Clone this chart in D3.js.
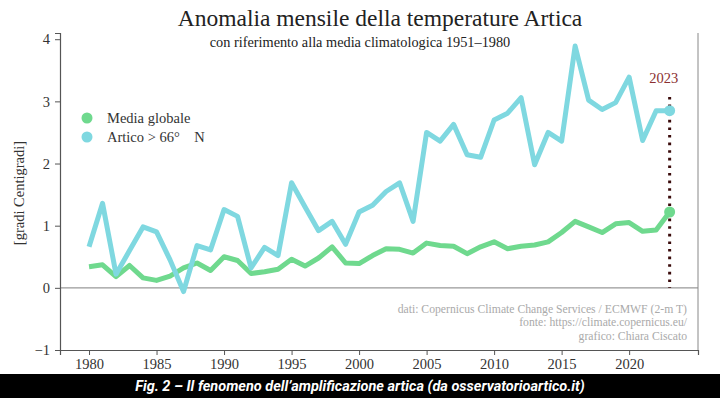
<!DOCTYPE html>
<html>
<head>
<meta charset="utf-8">
<script src="https://cdn.jsdelivr.net/npm/d3@7"></script>
<style>
  body { margin: 0; background: #fff; }
  svg { display: block; }
</style>
</head>
<body>
<div id="vis"></div>
<script>
// data
const YEARS = d3.range(1980, 2024)
const GLOBAL = [0.34, 0.37, 0.18, 0.36, 0.16, 0.12, 0.19, 0.32, 0.40, 0.28,
                0.50, 0.44, 0.23, 0.26, 0.30, 0.46, 0.35, 0.48, 0.66, 0.40,
                0.39, 0.52, 0.63, 0.62, 0.56, 0.72, 0.68, 0.67, 0.55, 0.66,
                0.74, 0.63, 0.67, 0.69, 0.74, 0.89, 1.07, 0.98, 0.89, 1.03,
                1.05, 0.91, 0.93, 1.22]
const ARCTIC = [0.66, 1.36, 0.22, 0.60, 0.98, 0.90, 0.45, -0.06, 0.68, 0.61,
                1.26, 1.15, 0.32, 0.65, 0.52, 1.69, 1.30, 0.92, 1.07, 0.70,
                1.22, 1.33, 1.55, 1.69, 1.07, 2.50, 2.36, 2.63, 2.14, 2.10,
                2.70, 2.81, 3.06, 1.98, 2.50, 2.36, 3.89, 3.02, 2.87, 2.98,
                3.39, 2.37, 2.85, 2.85]
const Y_TICKS = [-1, 0, 1, 2, 3, 4]
const X_TICKS = [1980, 1985, 1990, 1995, 2000, 2005, 2010, 2015, 2020]
const SERIES = [
  {name: "Media globale", values: GLOBAL, color: "#6fd98e"},
  {name: "Artico > 66°\u2003N", values: ARCTIC, color: "#7fd8e0"}
]
const HIGHLIGHT_YEAR = 2023
const CREDITS = ["dati: Copernicus Climate Change Services / ECMWF (2-m T)",
                 "fonte: https://climate.copernicus.eu/",
                 "grafico: Chiara Ciscato"]

const FRAME_WIDTH = 720
const FRAME_HEIGHT = 398
const MARGINS = {left: 60, right: 22, top: 33, bottom: 48}
const SERIF = "'Liberation Serif', 'DejaVu Serif', serif"

const svg = d3.select("#vis")
              .append("svg")
              .attr("width", FRAME_WIDTH)
              .attr("height", FRAME_HEIGHT)
              .attr("font-family", SERIF)

const x = d3.scaleLinear()
            .domain([1977.85, 2025.1])
            .range([MARGINS.left, FRAME_WIDTH - MARGINS.right])

const y = d3.scaleLinear()
            .domain([-1, 4.1])
            .range([FRAME_HEIGHT - MARGINS.bottom, MARGINS.top])

// title + subtitle
svg.append("text")
   .attr("x", 380).attr("y", 26)
   .attr("text-anchor", "middle")
   .attr("font-size", 23.5)
   .attr("fill", "#222")
   .text("Anomalia mensile della temperature Artica")

svg.append("text")
   .attr("x", 360).attr("y", 47)
   .attr("text-anchor", "middle")
   .attr("font-size", 14.3)
   .attr("fill", "#222")
   .text("con riferimento alla media climatologica 1951\u20131980")

// zero line
svg.append("line")
   .attr("x1", x.range()[0]).attr("x2", x.range()[1])
   .attr("y1", y(0)).attr("y2", y(0))
   .attr("stroke", "#999").attr("stroke-width", 1.2)

// right spine
svg.append("line")
   .attr("x1", x.range()[1]).attr("x2", x.range()[1])
   .attr("y1", y.range()[0]).attr("y2", y.range()[1])
   .attr("stroke", "#888").attr("stroke-width", 1)

// axes
const xAxis = svg.append("g")
   .attr("transform", "translate(0," + y.range()[0] + ")")
   .call(d3.axisBottom(x).tickValues(X_TICKS).tickFormat(d3.format("d")).tickSizeOuter(0).tickSize(5).tickPadding(4))

const yAxis = svg.append("g")
   .attr("transform", "translate(" + x.range()[0] + ",0)")
   .call(d3.axisLeft(y).tickValues(Y_TICKS).tickFormat(d3.format("d")).tickSizeOuter(0).tickSize(5).tickPadding(5))

for (const ax of [xAxis, yAxis]) {
  ax.attr("font-family", SERIF).attr("font-size", 14.5)
  ax.selectAll("text").attr("fill", "#333")
  ax.selectAll("line").attr("stroke", "#555")
  ax.select(".domain").attr("stroke", "#555").attr("stroke-width", 1.2)
}

svg.append("text")
   .attr("transform", "translate(24," + 193 + ") rotate(-90)")
   .attr("text-anchor", "middle")
   .attr("font-size", 14.5)
   .attr("fill", "#333")
   .text("[gradi Centigradi]")

// highlight year (dotted)
svg.append("line")
   .attr("x1", x(HIGHLIGHT_YEAR)).attr("x2", x(HIGHLIGHT_YEAR))
   .attr("y1", 97).attr("y2", y(0))
   .attr("stroke", "#3a0b0b")
   .attr("stroke-width", 3)
   .attr("stroke-dasharray", "2.6 5")

svg.append("text")
   .attr("x", x(HIGHLIGHT_YEAR) - 6).attr("y", 83)
   .attr("text-anchor", "middle")
   .attr("font-size", 14.5)
   .attr("fill", "#8b3030")
   .text(HIGHLIGHT_YEAR)

// lines
const line = d3.line()
               .x((d, i) => x(YEARS[i]))
               .y(d => y(d))

svg.selectAll(".series")
   .data(SERIES)
   .enter()
   .append("path")
     .attr("class", "series")
     .attr("d", d => line(d.values))
     .attr("fill", "none")
     .attr("stroke", d => d.color)
     .attr("stroke-width", 5)
     .attr("stroke-linejoin", "round")

// end markers
svg.selectAll(".endpt")
   .data(SERIES)
   .enter()
   .append("circle")
     .attr("cx", x(HIGHLIGHT_YEAR))
     .attr("cy", d => y(d.values[d.values.length - 1]))
     .attr("r", 5.5)
     .attr("fill", d => d.color)

// legend
const legend = svg.selectAll(".legend")
   .data(SERIES)
   .enter()
   .append("g")
     .attr("transform", (d, i) => "translate(87," + (118 + i * 19) + ")")

legend.append("circle").attr("r", 5.5).attr("fill", d => d.color)
legend.append("text")
      .attr("x", 20).attr("y", 5)
      .attr("font-size", 14.5)
      .attr("fill", "#333")
      .text(d => d.name)

// credits
svg.selectAll(".credit")
   .data(CREDITS)
   .enter()
   .append("text")
     .attr("x", 687)
     .attr("y", (d, i) => 313 + i * 13.3)
     .attr("text-anchor", "end")
     .attr("font-size", 11.7)
     .attr("fill", "#aaa")
     .text(d => d)

// caption bar
svg.append("rect")
   .attr("x", 0).attr("y", 374)
   .attr("width", FRAME_WIDTH).attr("height", FRAME_HEIGHT - 374)
   .attr("fill", "#000")

svg.append("text")
   .attr("x", 360).attr("y", 391)
   .attr("text-anchor", "middle")
   .attr("font-family", "Roboto, Inter, sans-serif")
   .attr("font-weight", "bold")
   .attr("font-style", "italic")
   .attr("font-size", 14.5)
   .attr("fill", "#fff")
   .text("Fig. 2 \u2013 Il fenomeno dell\u2019amplificazione artica (da osservatorioartico.it)")
</script>
</body>
</html>
